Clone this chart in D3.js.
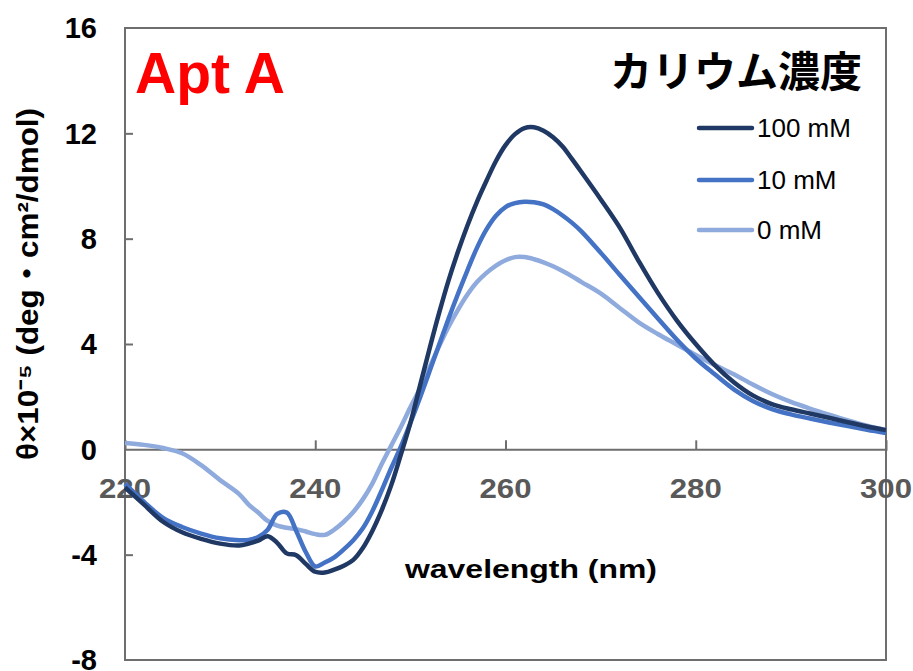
<!DOCTYPE html>
<html>
<head>
<meta charset="utf-8">
<script src="https://cdn.jsdelivr.net/npm/d3@7"></script>
<style>
  body { margin: 0; background: #fff; }
  .ticklabel { font-family: "Liberation Sans", Arial, sans-serif; font-weight: bold; }
  .axistitle { font-family: "Liberation Sans", Arial, "Noto Sans CJK JP", sans-serif; font-weight: bold; fill: #000; }
  .legendlabel { font-family: "Liberation Sans", Arial, sans-serif; font-size: 26px; fill: #000; }
</style>
</head>
<body>
<div id="chart"></div>
<script>
var width = 913,
    height = 671;

// wavelength (nm)
var wavelengths = [220, 222, 224, 226, 228, 230, 232, 233, 234, 235, 236, 237, 238, 239, 240,
    241, 242, 243, 244, 245, 246, 247, 248, 249, 250, 251, 252, 253, 254, 255, 256, 257, 258,
    259, 260, 261, 262, 263, 264, 265, 266, 267, 268, 270, 272, 274, 276, 278, 280, 282, 284,
    286, 288, 290, 292, 294, 296, 298, 300];

// theta x 10^-5
var k100 = [-1.45, -2.1, -2.75, -3.15, -3.4, -3.58, -3.65, -3.58, -3.47, -3.3, -3.55, -3.95, -4.02, -4.35, -4.65,
    -4.68, -4.57, -4.42, -4.2, -3.75, -3.1, -2.3, -1.35, -0.2, 1.0, 2.4, 3.8, 5.15, 6.4, 7.5, 8.5, 9.4, 10.2,
    10.95, 11.55, 11.97, 12.2, 12.23, 12.1, 11.85, 11.5, 11.02, 10.52, 9.5, 8.43, 7.15, 5.95, 4.9, 4.0, 3.2, 2.55,
    2.05, 1.72, 1.52, 1.36, 1.2, 1.03, 0.87, 0.73];

var k10 = [-1.3, -2.0, -2.6, -2.95, -3.2, -3.38, -3.45, -3.44, -3.33, -3.05, -2.45, -2.4, -3.1, -3.9, -4.45,
    -4.3, -4.1, -3.8, -3.45, -3.0, -2.35, -1.55, -0.7, 0.1, 1.0, 1.95, 2.95, 3.95, 4.95, 5.9, 6.8, 7.65, 8.35,
    8.87, 9.2, 9.35, 9.4, 9.38, 9.3, 9.12, 8.88, 8.6, 8.27, 7.47, 6.63, 5.8, 4.98, 4.17, 3.45, 2.85, 2.28,
    1.84, 1.53, 1.33, 1.17, 1.02, 0.88, 0.74, 0.62];

var k0 = [0.24, 0.17, 0.05, -0.15, -0.6, -1.17, -1.7, -2.1, -2.4, -2.72, -2.9, -2.98, -3.03, -3.12, -3.22,
    -3.25, -3.05, -2.75, -2.38, -1.9, -1.3, -0.55, 0.15, 0.85, 1.6, 2.3, 3.1, 3.9, 4.65, 5.3, 5.88, 6.35, 6.7,
    6.98, 7.18, 7.3, 7.3, 7.22, 7.1, 6.95, 6.77, 6.57, 6.35, 5.92, 5.37, 4.82, 4.38, 3.98, 3.58, 3.2, 2.85,
    2.46, 2.1, 1.8, 1.55, 1.32, 1.1, 0.9, 0.73];

var seriesNames = ["100 mM", "10 mM", "0 mM"];
var seriesValues = [k100, k10, k0];
var colorrange = ["#203864", "#4472c4", "#8faadc"];

var xTicks = [220, 240, 260, 280, 300];
var yTicks = [-8, -4, 0, 4, 8, 12, 16];

var margin = {left: 125, right: 27, top: 28, bottom: 11};

var svg = d3.select("#chart")
    .append("svg")
    .attr("width", width)
    .attr("height", height)

var x = d3.scaleLinear().domain([220, 300]).range([margin.left, width - margin.right]);
var y = d3.scaleLinear().domain([-8, 16]).range([height - margin.bottom, margin.top]);

var axisColor = "#6e6e6e";

// frame
svg.append("rect")
    .attr("x", x(220))
    .attr("y", y(16))
    .attr("width", x(300) - x(220))
    .attr("height", y(-8) - y(16))
    .style("fill", "none")
    .style("stroke", axisColor)
    .style("stroke-width", 2)

// y axis ticks, pointing inward
var yAxis = d3.axisRight(y)
    .tickValues(yTicks.filter(function (d) { return d > -8 && d < 16 && d !== 0; }))
    .tickSize(8)
    .tickFormat("");

svg.append("g")
    .attr("transform", "translate(" + x(220) + ",0)")
    .call(yAxis)
    .call(function (g) { g.select(".domain").remove(); })
    .selectAll("line")
    .style("stroke", axisColor)
    .style("stroke-width", 2)

svg.selectAll(".ylabel")
    .data(yTicks)
    .enter()
    .append("text")
    .attr("class", "ticklabel ylabel")
    .attr("x", 97)
    .attr("y", function (d) { return y(d); })
    .attr("dy", "0.36em")
    .style("text-anchor", "end")
    .style("font-size", "29px")
    .style("fill", "#000")
    .text(function (d) { return d; })

// zero line with ticks going up
var xAxis = d3.axisTop(x)
    .tickValues(xTicks.filter(function (d) { return d > 220 && d < 300; }))
    .tickSize(9)
    .tickFormat("");

svg.append("g")
    .attr("transform", "translate(0," + y(0) + ")")
    .call(xAxis)
    .call(function (g) {
        g.select(".domain").style("stroke", axisColor).style("stroke-width", 2);
    })
    .selectAll("line")
    .style("stroke", axisColor)
    .style("stroke-width", 2)

svg.selectAll(".xlabel")
    .data(xTicks)
    .enter()
    .append("text")
    .attr("class", "ticklabel xlabel")
    .attr("x", function (d) { return x(d); })
    .attr("y", y(0) + 49)
    .attr("textLength", 52)
    .attr("lengthAdjust", "spacingAndGlyphs")
    .style("text-anchor", "middle")
    .style("font-size", "28px")
    .style("fill", "#595959")
    .text(function (d) { return d; })

// curves
var line = d3.line()
    .x(function (d) { return x(d[0]); })
    .y(function (d) { return y(d[1]); })
    .curve(d3.curveCatmullRom.alpha(0.5));

// draw light first so the dark one sits on top
[2, 1, 0].forEach(function (i) {
    var pts = wavelengths.map(function (w, j) { return [w, seriesValues[i][j]]; });
    svg.append("path")
        .attr("d", line(pts))
        .style("fill", "none")
        .style("stroke", colorrange[i])
        .style("stroke-width", 4.5)
        .style("stroke-linejoin", "round")
})

// titles
svg.append("text")
    .attr("x", 135)
    .attr("y", 93)
    .style("font-family", "'Liberation Sans', Arial, sans-serif")
    .style("font-weight", "bold")
    .style("font-size", "57px")
    .style("fill", "#ff0000")
    .text("Apt A")

svg.append("text")
    .attr("x", 862)
    .attr("y", 87)
    .style("font-family", "'Noto Sans CJK JP', sans-serif")
    .style("font-weight", "bold")
    .style("font-size", "42px")
    .style("text-anchor", "end")
    .style("fill", "#000")
    .text("カリウム濃度")

svg.append("text")
    .attr("class", "axistitle")
    .attr("x", 531)
    .attr("y", 578)
    .attr("textLength", 252)
    .attr("lengthAdjust", "spacingAndGlyphs")
    .style("font-size", "26px")
    .style("text-anchor", "middle")
    .text("wavelength (nm)")

svg.append("text")
    .attr("class", "axistitle")
    .attr("transform", "translate(38,284) rotate(-90)")
    .attr("textLength", 352)
    .attr("lengthAdjust", "spacingAndGlyphs")
    .style("font-size", "29px")
    .style("text-anchor", "middle")
    .text("θ×10⁻⁵ (deg・cm²/dmol)")

// legend
var legendY = [128, 180, 230];

seriesNames.forEach(function (name, i) {
    svg.append("line")
        .attr("x1", 699)
        .attr("x2", 752)
        .attr("y1", legendY[i])
        .attr("y2", legendY[i])
        .style("stroke", colorrange[i])
        .style("stroke-width", 4.5)
        .style("stroke-linecap", "round")

    svg.append("text")
        .attr("class", "legendlabel")
        .attr("x", 757)
        .attr("y", legendY[i])
        .attr("dy", "0.36em")
        .text(name)
})
</script>
</body>
</html>
